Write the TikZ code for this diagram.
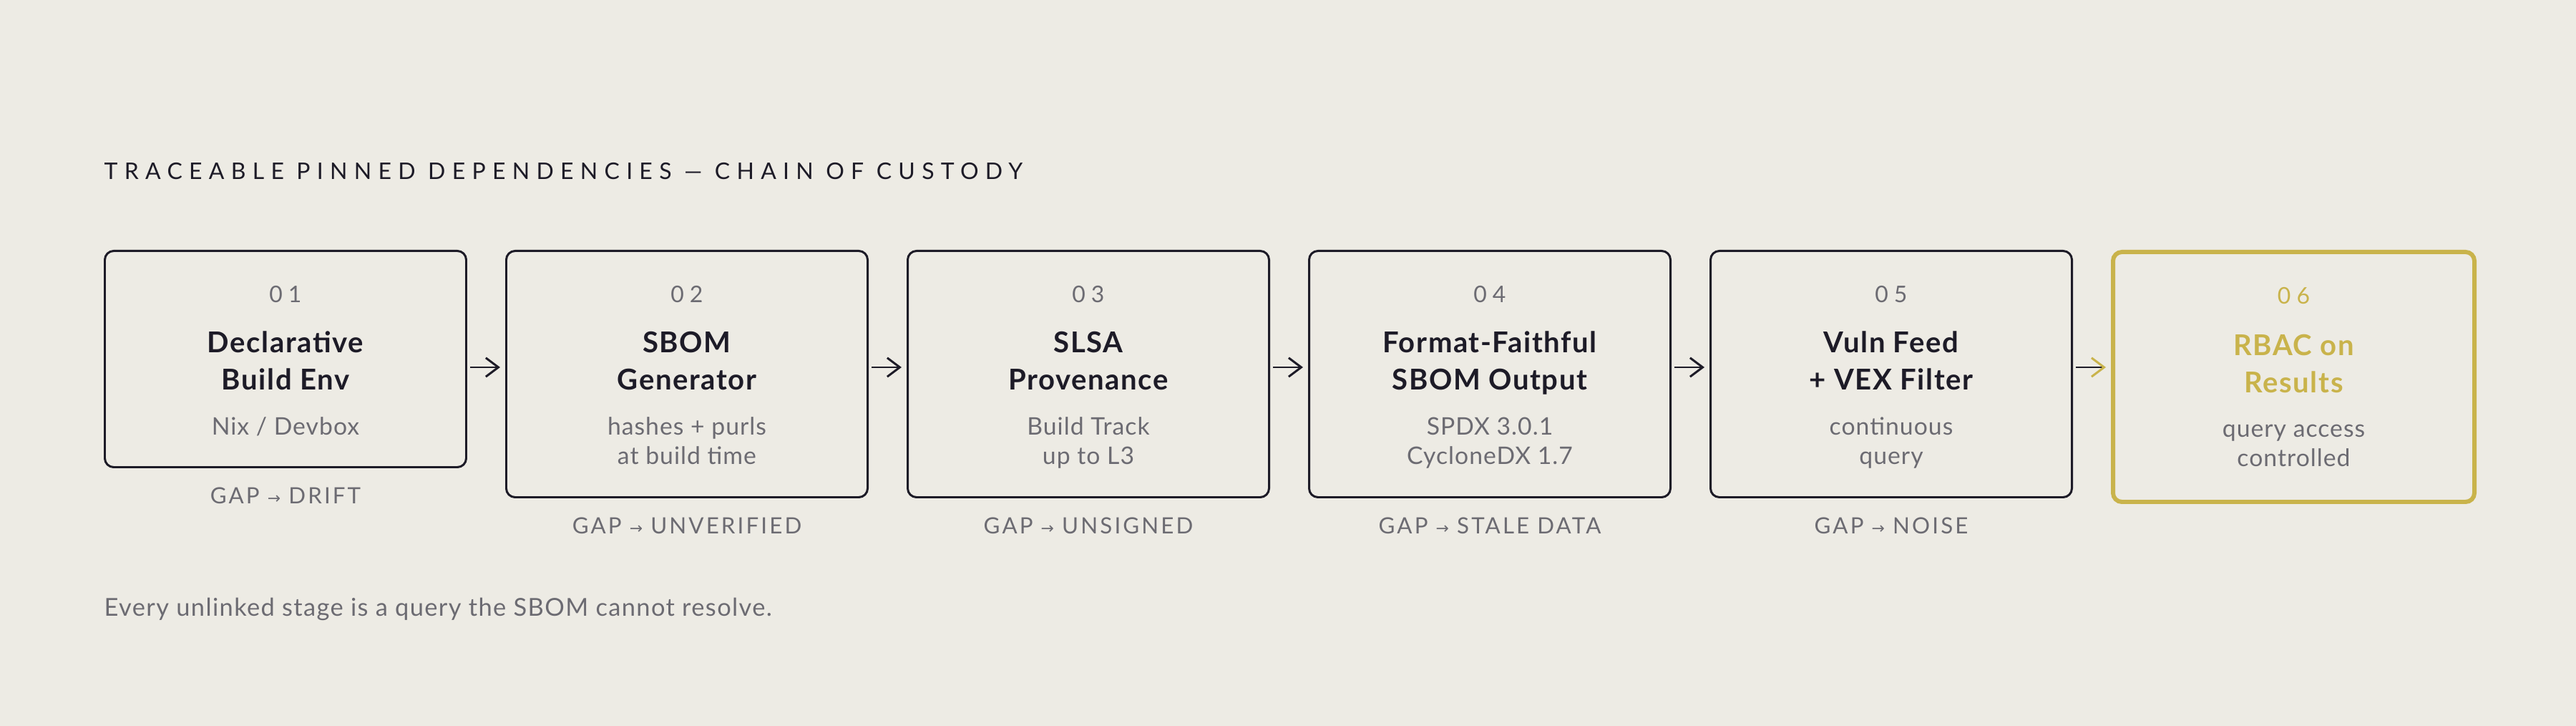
\documentclass[tikz,border=0pt]{standalone}
\usepackage{fontspec}
\setmainfont{Lato}
\newfontfamily\trackfont[LetterSpace=29]{Lato}
\newfontfamily\numfont[LetterSpace=25]{Lato}
\newfontfamily\gapfont[LetterSpace=10]{Lato}
\newfontfamily\headfont[LetterSpace=4]{Lato}
\newfontfamily\subfont[LetterSpace=3]{Lato}
\newfontfamily\footfont[LetterSpace=4]{Lato}
\newfontfamily\symfont[Scale=0.7]{DejaVu Sans}
\usetikzlibrary{arrows.meta}
\definecolor{paper}{HTML}{EDEBE4}
\definecolor{ink}{HTML}{1D1B27}
\definecolor{mute}{HTML}{6C6B72}
\definecolor{gold}{HTML}{C9B34B}
\newcommand{\gapto}{ {\symfont →} }

\begin{document}
\begin{tikzpicture}[stage/.style={draw=ink, line width=0.85pt, rounded corners=3.5pt, minimum width=5.05cm, anchor=north west, inner sep=0pt},
	num/.style={anchor=base, text=mute, font=\numfont\fontsize{9.1}{11}\selectfont},
	head/.style={anchor=base, text=ink, align=center, font=\headfont\bfseries\fontsize{11.4}{14.8}\selectfont},
	sub/.style={anchor=base, text=mute, align=center, font=\subfont\fontsize{9.6}{11.7}\selectfont},
	gap/.style={anchor=base, text=mute, font=\gapfont\fontsize{8.9}{10}\selectfont},
	flow/.style={draw=ink, line width=0.85pt, -{Straight Barb[length=5pt,width=7.5pt]}, shorten <=1.2pt, shorten >=2pt}]
\path[fill=paper] (0,0) rectangle (36,-10.14);

\node [anchor=base west, inner sep=0pt, text=ink, font=\trackfont\fontsize{9.1}{11}\selectfont] (title) at (1.45,-2.51) {TRACEABLE PINNED DEPENDENCIES — CHAIN OF CUSTODY};

% stages
\node [stage, minimum height=3.02cm] (b1) at (1.45,-3.49) {};
\node [stage, minimum height=3.44cm] (b2) at (7.06,-3.49) {};
\node [stage, minimum height=3.44cm] (b3) at (12.67,-3.49) {};
\node [stage, minimum height=3.44cm] (b4) at (18.28,-3.49) {};
\node [stage, minimum height=3.44cm] (b5) at (23.89,-3.49) {};
\node [stage, draw=gold, line width=1.7pt, minimum height=3.49cm] (b6) at (29.50,-3.49) {};

\node [num] (n1) at ([yshift=-0.74cm]b1.north) {01};
\node [head] (h1) at ([yshift=-1.96cm]b1.north) {Declarative\\Build Env};
\node [sub] (s1) at ([yshift=-2.59cm]b1.north) {Nix / Devbox};

\node [num] (n2) at ([yshift=-0.74cm]b2.north) {02};
\node [head] (h2) at ([yshift=-1.96cm]b2.north) {SBOM\\Generator};
\node [sub] (s2) at ([yshift=-3.00cm]b2.north) {hashes + purls\\at build time};

\node [num] (n3) at ([yshift=-0.74cm]b3.north) {03};
\node [head] (h3) at ([yshift=-1.96cm]b3.north) {SLSA\\Provenance};
\node [sub] (s3) at ([yshift=-3.00cm]b3.north) {Build Track\\up to L3};

\node [num] (n4) at ([yshift=-0.74cm]b4.north) {04};
\node [head] (h4) at ([yshift=-1.96cm]b4.north) {Format-Faithful\\SBOM Output};
\node [sub] (s4) at ([yshift=-3.00cm]b4.north) {SPDX 3.0.1\\CycloneDX 1.7};

\node [num] (n5) at ([yshift=-0.74cm]b5.north) {05};
\node [head] (h5) at ([yshift=-1.96cm]b5.north) {Vuln Feed\\+ VEX Filter};
\node [sub] (s5) at ([yshift=-3.00cm]b5.north) {continuous\\query};

\node [num, text=gold] (n6) at ([yshift=-0.76cm]b6.north) {06};
\node [head, text=gold] (h6) at ([yshift=-2.00cm]b6.north) {RBAC on\\Results};
\node [sub] (s6) at ([yshift=-3.03cm]b6.north) {query access\\controlled};

% gaps
\node [gap] (g1) at ([yshift=-0.50cm]b1.south) {GAP\gapto DRIFT};
\node [gap] (g2) at ([yshift=-0.50cm]b2.south) {GAP\gapto UNVERIFIED};
\node [gap] (g3) at ([yshift=-0.50cm]b3.south) {GAP\gapto UNSIGNED};
\node [gap] (g4) at ([yshift=-0.50cm]b4.south) {GAP\gapto STALE DATA};
\node [gap] (g5) at ([yshift=-0.50cm]b5.south) {GAP\gapto NOISE};

% chain
\draw [flow] ([yshift=-1.64cm]b1.north east) -- ([yshift=-1.64cm]b2.north west);
\draw [flow] ([yshift=-1.64cm]b2.north east) -- ([yshift=-1.64cm]b3.north west);
\draw [flow] ([yshift=-1.64cm]b3.north east) -- ([yshift=-1.64cm]b4.north west);
\draw [flow] ([yshift=-1.64cm]b4.north east) -- ([yshift=-1.64cm]b5.north west);
\draw [flow, -{Straight Barb[length=5pt,width=7.5pt,color=gold]}] ([yshift=-1.64cm]b5.north east) -- ([yshift=-1.64cm]b6.north west);

\node [anchor=base west, inner sep=0pt, text=mute, font=\footfont\fontsize{9.8}{11}\selectfont] (foot) at (1.45,-8.60) {Every unlinked stage is a query the SBOM cannot resolve.};
\end{tikzpicture}
\end{document}
